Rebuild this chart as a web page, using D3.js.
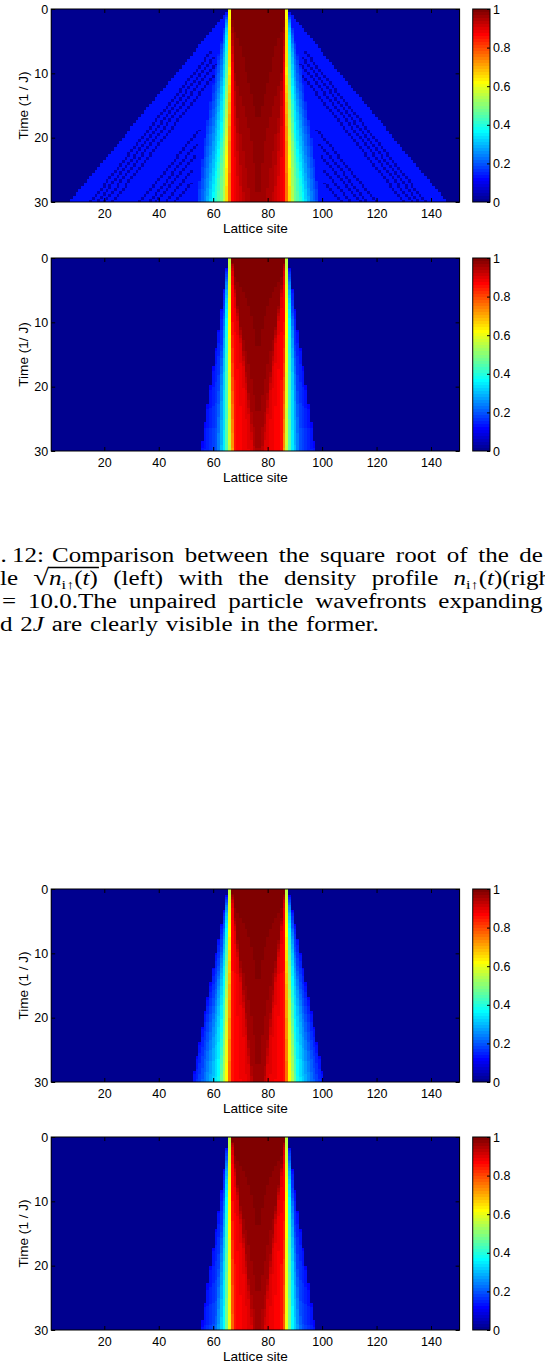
<!DOCTYPE html>
<html>
<head>
<meta charset="utf-8">
<script src="https://cdn.jsdelivr.net/npm/d3@7"></script>
<style>
  html, body { margin: 0; padding: 0; background: #fff; }
  svg { display: block; }
</style>
</head>
<body>
<script>
// ---- grids and ticks ----
const sites = d3.range(1, 151);          // lattice sites 1..150
const dt = 0.25;
const times = d3.range(0, 30, dt);       // start of each time row
const keyTimes = [0, 10, 20, 30];
const xTicks = [20, 40, 60, 80, 100, 120, 140];
const yTicks = [0, 10, 20, 30];
const cbTicks = [0, 0.2, 0.4, 0.6, 0.8, 1];

// ---- left-half landmark profiles (site position, value) at keyTimes ----
// panel 1: square root of the density
const p1Pos = [
  [65.5, 65.6, 65.8, 66.0, 66.4, 66.6, 66.8, 76.5],
  [60.5, 62.5, 64.5, 65.6, 66.3, 67.0, 68.0, 76.5],
  [57.0, 59.5, 62.8, 64.8, 65.8, 66.8, 69.5, 76.5],
  [54.0, 57.0, 59.8, 63.5, 65.0, 67.0, 71.5, 76.5]
];
const p1Val = [
  [0.15, 0.25, 0.40, 0.60, 0.85, 0.95, 0.99, 1.00],
  [0.15, 0.22, 0.37, 0.55, 0.70, 0.87, 0.97, 1.00],
  [0.16, 0.24, 0.37, 0.55, 0.70, 0.86, 0.95, 0.98],
  [0.16, 0.25, 0.37, 0.50, 0.65, 0.86, 0.94, 0.97]
];
// fast (unpaired) wavefront of panel 1
const fastFrontT = [0, 30];
const fastFrontSite = [66, 7.2];
const fastValue = 0.13;
const stripeValue = 0.04;
const stripeT0 = [6.5, 7.5, 8.5, 9.5, 18.8, 21.0, 22.8, 25.0, 27.0];
const stripeS0 = [59.6, 60.2, 60.8, 61.9, 55.0, 54.0, 53.2, 52.6, 52.2];
const stripeS30 = [15.0, 17.5, 20.0, 23.0, 33.0, 36.5, 39.0, 42.7, 46.2];

// panel 2: density
const p2Pos = [
  [65.5, 65.6, 65.8, 66.0, 66.4, 66.6, 66.8, 76.5],
  [62.4, 63.6, 65.0, 66.0, 67.0, 69.0, 69.8, 76.5],
  [58.9, 62.0, 64.6, 66.2, 67.3, 71.8, 72.8, 76.5],
  [55.5, 61.0, 64.4, 66.5, 67.7, 74.3, 75.3, 76.5]
];
const p2Val = [
  [0.12, 0.20, 0.37, 0.55, 0.85, 0.92, 0.99, 1.00],
  [0.12, 0.17, 0.37, 0.62, 0.86, 0.90, 0.97, 0.99],
  [0.12, 0.18, 0.37, 0.62, 0.85, 0.90, 0.96, 0.98],
  [0.12, 0.20, 0.37, 0.62, 0.85, 0.90, 0.94, 0.96]
];

// panel 3
const p3Pos = [
  [65.5, 65.6, 65.8, 66.0, 66.4, 66.6, 66.8, 76.5],
  [61.0, 62.8, 64.6, 65.9, 66.9, 68.8, 69.6, 76.5],
  [56.6, 59.5, 63.3, 65.4, 66.8, 71.3, 72.3, 76.5],
  [52.3, 56.5, 61.8, 65.0, 66.6, 73.5, 74.5, 76.5]
];
const p3Val = [
  [0.12, 0.20, 0.37, 0.55, 0.85, 0.92, 0.99, 1.00],
  [0.12, 0.19, 0.37, 0.62, 0.86, 0.90, 0.97, 0.99],
  [0.12, 0.21, 0.37, 0.62, 0.85, 0.90, 0.96, 0.98],
  [0.12, 0.22, 0.37, 0.62, 0.85, 0.90, 0.95, 0.97]
];

// panel 4
const p4Pos = [
  [65.5, 65.6, 65.8, 66.0, 66.4, 66.6, 66.8, 76.5],
  [62.5, 63.7, 65.0, 66.0, 67.0, 69.0, 69.8, 76.5],
  [59.0, 62.0, 64.5, 66.1, 67.2, 71.6, 72.6, 76.5],
  [55.5, 60.5, 64.0, 66.2, 67.4, 74.0, 75.0, 76.5]
];
const p4Val = [
  [0.12, 0.20, 0.37, 0.55, 0.85, 0.92, 0.99, 1.00],
  [0.12, 0.17, 0.37, 0.62, 0.86, 0.90, 0.97, 0.99],
  [0.12, 0.18, 0.37, 0.62, 0.85, 0.90, 0.96, 0.98],
  [0.12, 0.20, 0.37, 0.62, 0.85, 0.90, 0.94, 0.96]
];

// ---- layout ----
const W = 545, H = 1367;
const plotLeft = 51.2, plotRight = 459.6, plotH = 193;
const cbLeft = 472.7, cbRight = 490;
const mirrorSum = 153;   // profile is symmetric: site s <-> 153 - s

const panels = [
  { top: 9,    pos: p1Pos, val: p1Val, fast: true,  ylabel: "Time (1 / J)" },
  { top: 258,  pos: p2Pos, val: p2Val, fast: false, ylabel: "Time (1/ J)" },
  { top: 889,  pos: p3Pos, val: p3Val, fast: false, ylabel: "Time (1 / J)" },
  { top: 1137, pos: p4Pos, val: p4Val, fast: false, ylabel: "Time (1 / J)" }
];

// MATLAB jet(64)
function jetColor(k) {            // k = 1..64
  const x = k / 64;
  const c = q => Math.max(0, Math.min(1, q));
  const r = c(Math.min(4 * x - 1.5, -4 * x + 4.5));
  const g = c(Math.min(4 * x - 0.5, -4 * x + 3.5));
  const b = c(Math.min(4 * x + 0.5, -4 * x + 2.5));
  return d3.rgb(Math.round(r * 255), Math.round(g * 255), Math.round(b * 255)).formatHex();
}
const jet = d3.range(1, 65).map(jetColor);
const color = d3.scaleQuantize().domain([0, 1]).range(jet);

const sansFont = "'Liberation Sans', Arial, Helvetica, sans-serif";
const serifFont = "'Liberation Serif', 'Times New Roman', serif";

const svg = d3.select("body").append("svg")
  .attr("width", W).attr("height", H)
  .attr("viewBox", `0 0 ${W} ${H}`);
svg.append("rect").attr("width", W).attr("height", H).attr("fill", "#fff");

const x = d3.scaleLinear().domain([0.5, 150.5]).range([plotLeft, plotRight]);
const frontScale = d3.scaleLinear().domain(fastFrontT).range(fastFrontSite);
const stripeScales = stripeT0.map((t0, i) =>
  ({ t0, s: d3.scaleLinear().domain([t0, 30]).range([stripeS0[i], stripeS30[i]]) }));

// landmark profile at time t -> scale from site position to value
function profileAt(pos, val, t) {
  const k = Math.max(0, Math.min(keyTimes.length - 2, d3.bisectRight(keyTimes, t) - 1));
  const f = (t - keyTimes[k]) / (keyTimes[k + 1] - keyTimes[k]);
  const P = pos[k].map((p, j) => d3.interpolateNumber(p, pos[k + 1][j])(f));
  const V = val[k].map((v, j) => d3.interpolateNumber(v, val[k + 1][j])(f));
  return { start: P[0], scale: d3.scaleLinear().domain(P).range(V).clamp(true) };
}

function cellValue(panel, prof, s, t) {
  const xl = s <= 76 ? s : mirrorSum - s;
  if (xl >= prof.start) return prof.scale(xl);
  if (panel.fast && xl >= frontScale(t)) {
    for (const st of stripeScales) {
      if (t >= st.t0 && Math.round(st.s(t)) === xl) return stripeValue;
    }
    return fastValue;
  }
  return 0;
}

function fmtTick(d) { return String(d); }

function styleAxis(g, size) {
  g.select(".domain").remove();
  g.selectAll(".tick line").attr("stroke", "#000").attr("stroke-width", 1);
  g.selectAll(".tick text")
    .attr("fill", "#000")
    .style("font-family", sansFont)
    .style("font-size", size + "px");
}

panels.forEach(panel => {
  const top = panel.top, bottom = top + plotH;
  const y = d3.scaleLinear().domain([0, 30]).range([top, bottom]);
  const g = svg.append("g");

  // heatmap cells, runs of equal colour merged per row
  const cells = g.append("g").attr("shape-rendering", "crispEdges");
  times.forEach(t => {
    const tm = t + dt / 2;
    const prof = profileAt(panel.pos, panel.val, tm);
    const cols = sites.map(s => color(cellValue(panel, prof, s, tm)));
    let start = 0;
    for (let i = 1; i <= sites.length; i++) {
      if (i === sites.length || cols[i] !== cols[start]) {
        cells.append("rect")
          .attr("x", x(sites[start] - 0.5))
          .attr("width", x(sites[i - 1] + 0.5) - x(sites[start] - 0.5))
          .attr("y", y(t))
          .attr("height", y(t + dt) - y(t))
          .attr("fill", cols[start]);
        start = i;
      }
    }
  });

  // axes with inward ticks on all four sides
  g.append("g").attr("transform", `translate(0,${bottom})`)
    .call(d3.axisBottom(x).tickValues(xTicks).tickFormat(fmtTick).tickSizeInner(-4).tickSizeOuter(0).tickPadding(7))
    .call(a => styleAxis(a, 12.5));
  g.append("g").attr("transform", `translate(0,${top})`)
    .call(d3.axisTop(x).tickValues(xTicks).tickFormat("").tickSizeInner(-4).tickSizeOuter(0))
    .call(a => styleAxis(a, 12.5));
  g.append("g").attr("transform", `translate(${plotLeft},0)`)
    .call(d3.axisLeft(y).tickValues(yTicks).tickFormat(fmtTick).tickSizeInner(-4).tickSizeOuter(0).tickPadding(3))
    .call(a => styleAxis(a, 12.5));
  g.append("g").attr("transform", `translate(${plotRight},0)`)
    .call(d3.axisRight(y).tickValues(yTicks).tickFormat("").tickSizeInner(-4).tickSizeOuter(0))
    .call(a => styleAxis(a, 12.5));

  g.append("rect")
    .attr("x", plotLeft).attr("y", top)
    .attr("width", plotRight - plotLeft).attr("height", plotH)
    .attr("fill", "none").attr("stroke", "#000").attr("stroke-width", 1);

  // axis titles
  g.append("text")
    .attr("x", (plotLeft + plotRight) / 2).attr("y", bottom + 31)
    .attr("text-anchor", "middle")
    .style("font-family", sansFont).style("font-size", "13.6px")
    .text("Lattice site");
  g.append("text")
    .attr("transform", `translate(27.5,${(top + bottom) / 2}) rotate(-90)`)
    .attr("text-anchor", "middle")
    .style("font-family", sansFont).style("font-size", "13.6px")
    .text(panel.ylabel);

  // colour bar
  const cy = d3.scaleLinear().domain([0, 1]).range([bottom, top]);
  const cb = g.append("g").attr("shape-rendering", "crispEdges");
  cb.selectAll("rect").data(jet).join("rect")
    .attr("x", cbLeft).attr("width", cbRight - cbLeft)
    .attr("y", (c, i) => cy((i + 1) / 64))
    .attr("height", (c, i) => cy(i / 64) - cy((i + 1) / 64))
    .attr("fill", c => c);
  g.append("g").attr("transform", `translate(${cbRight},0)`)
    .call(d3.axisRight(cy).tickValues(cbTicks).tickFormat(fmtTick).tickSizeInner(-3).tickSizeOuter(0).tickPadding(3))
    .call(a => styleAxis(a, 12.5));
  g.append("rect")
    .attr("x", cbLeft).attr("y", top)
    .attr("width", cbRight - cbLeft).attr("height", plotH)
    .attr("fill", "none").attr("stroke", "#000").attr("stroke-width", 1);
});

// ---- caption fragment (justified lines, wide serif glyphs) ----
const capScaleX = 1.25;
const cap = svg.append("g")
  .style("font-family", serifFont).style("font-size", "20px").attr("fill", "#000");

// one word or formula, made of parts {text, italic, size, dy}
function makeItem(parts, baseline) {
  if (typeof parts === "string") parts = [{ text: parts }];
  const els = parts.map(p => {
    const t = cap.append("text").attr("y", baseline + (p.dy || 0)).text(p.text);
    if (p.size) t.style("font-size", p.size + "px");
    if (p.italic) t.style("font-style", "italic");
    const w = t.node().getComputedTextLength() * capScaleX;
    t.attr("textLength", w).attr("lengthAdjust", "spacingAndGlyphs");
    return { t, w };
  });
  return {
    els,
    width: d3.sum(els, e => e.w),
    place(x0) {
      let cx = x0;
      return els.map(e => { e.t.attr("x", cx); const s = cx; cx += e.w; return [s, cx]; });
    }
  };
}
// spread items evenly between x0 and x1, or use a fixed gap
function layoutLine(baseline, specs, x0, x1, gap) {
  const items = specs.map(s => makeItem(s, baseline));
  const total = d3.sum(items, it => it.width);
  const g = gap != null ? gap : (x1 - x0 - total) / (items.length - 1);
  let cx = x0;
  return items.map(it => { const spans = it.place(cx); cx += it.width + g; return spans; });
}
const density = [
  { text: "n", italic: true },
  { text: "i\u2191", size: 13, dy: 4 },
  { text: "(" }, { text: "t", italic: true }, { text: ")" }
];

const b1 = 562, b2 = 585, b3 = 608, b4 = 631;

layoutLine(b1, ["."], 0.5, null, 0);
layoutLine(b1, ["12:"], 12, null, 0);
layoutLine(b1, ["Comparison", "between", "the", "square", "root", "of", "the", "de"], 52, 543);

const sqrtTerm = [{ text: "\u221A", size: 23 }].concat(density);
const l2 = layoutLine(b2, ["le", sqrtTerm, "(left)", "with", "the", "density", "profile",
  density.concat([{ text: "(righ" }])], 0, 551);
// vinculum of the square root
cap.append("line")
  .attr("x1", l2[1][0][1] - 1).attr("x2", l2[1][l2[1].length - 1][1] + 1)
  .attr("y1", b2 - 17.5).attr("y2", b2 - 17.5)
  .attr("stroke", "#000").attr("stroke-width", 1.4);

layoutLine(b3, ["=", "10.0.The", "unpaired", "particle", "wavefronts", "expanding"], 2, 542.5);

layoutLine(b4, ["d", [{ text: "2" }, { text: "J", italic: true }], "are", "clearly", "visible",
  "in", "the", "former."], 0, null, 7.8);
</script>
</body>
</html>
